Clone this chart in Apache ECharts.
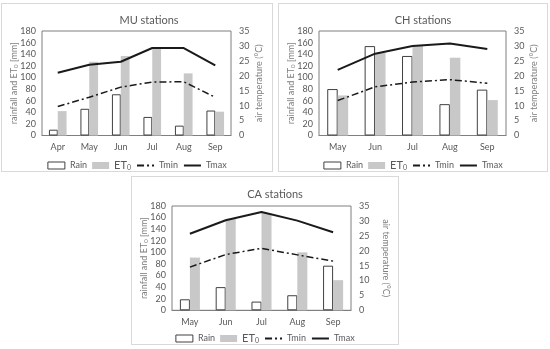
<!DOCTYPE html>
<html><head><meta charset="utf-8">
<script src="https://cdn.jsdelivr.net/npm/echarts@6/dist/echarts.min.js"></script>
<style>
html,body{margin:0;padding:0;background:#fff;width:550px;height:349px;overflow:hidden}
.p{position:absolute;border:1px solid #d9d9d9;box-sizing:border-box;background:#fff}
</style></head><body>
<div id="mu" class="p" style="left:1px;top:3px;width:272px;height:169px"></div>
<div id="ch" class="p" style="left:278px;top:3px;width:270px;height:169px"></div>
<div id="ca" class="p" style="left:131px;top:176px;width:268px;height:169px"></div>
<script>
// ---- data ----
const muMonths = ['Apr','May','Jun','Jul','Aug','Sep'];
const muRain = [10, 46, 71, 32, 17, 43];
const muET0  = [42, 127, 137, 149, 107, 41];
const muTmin = [9.7, 12.8, 16.2, 17.9, 18.0, 12.8];
const muTmax = [21.0, 23.7, 24.7, 29.3, 29.3, 23.5];

const chMonths = ['May','Jun','Jul','Aug','Sep'];
const chRain = [80, 154, 137, 54, 79];
const chET0  = [69, 142, 154, 134, 61];
const chTmin = [11.7, 16.3, 17.9, 18.7, 17.5];
const chTmax = [22.0, 27.4, 30.0, 30.8, 29.0];

const caMonths = ['May','Jun','Jul','Aug','Sep'];
const caRain = [19, 40, 15, 26, 77];
const caET0  = [91, 158, 168, 100, 52];
const caTmin = [14.5, 18.7, 20.8, 18.6, 16.5];
const caTmax = [25.7, 30.2, 33.0, 30.1, 26.2];

const leftTicks = {min:0, max:180, interval:20};
const rightTicks = {min:0, max:35, interval:5};

const FONT = 'Lato, "Open Sans", sans-serif';
const TXT = '#595959';

function build(id, title, months, rain, et0, tmin, tmax, L) {
  const chart = echarts.init(document.getElementById(id), null, {renderer:'canvas'});
  chart.setOption({
    animation:false,
    textStyle:{fontFamily:FONT},
    title:{text:title, left:L.titleX, top:L.titleY, textAlign:'center',
      textStyle:{fontSize:11, fontWeight:'normal', color:TXT, fontFamily:FONT}},
    grid:{left:L.left, top:L.top, width:L.width, height:L.height, show:true,
      borderColor:'#7f7f7f', borderWidth:1, containLabel:false},
    legend:{top:L.legendTop, left:'center', itemWidth:17, itemHeight:7, itemGap:5,
      textStyle:{color:TXT, fontFamily:FONT,
        rich:{n:{fontSize:9, color:TXT, fontFamily:FONT, height:14},
              e:{fontSize:11, color:TXT, fontFamily:FONT, height:14},
              s:{fontSize:7, color:TXT, fontFamily:FONT, verticalAlign:'bottom', height:10}}},
      formatter:function(n){ return n==='ET0' ? '{e|ET}{s|0}' : '{n|'+n+'}'; },
      data:[{name:'Rain', icon:'rect', itemStyle:{borderWidth:1, borderColor:'#404040'}},
            {name:'ET0', icon:'rect'},
            {name:'Tmin', itemStyle:{opacity:0}},
            {name:'Tmax', itemStyle:{opacity:0}}]},
    xAxis:{type:'category', data:months,
      axisLine:{lineStyle:{color:'#7f7f7f'}}, axisTick:{show:false},
      axisLabel:{color:TXT, fontSize:9, margin:7, fontFamily:FONT}},
    yAxis:[
      {type:'value', min:leftTicks.min, max:leftTicks.max, interval:leftTicks.interval,
       splitLine:{show:false}, axisLine:{show:false}, axisTick:{show:false},
       axisLabel:{color:TXT, fontSize:9, margin:6, fontFamily:FONT},
       name:'{a|rainfall and ET}{s|0}{a| [mm]}', nameLocation:'middle', nameGap:23, nameMoveOverlap:false,
       nameTextStyle:{rich:{a:{fontSize:9, color:'#7f7f7f', fontFamily:FONT}, s:{fontSize:6, color:'#7f7f7f', fontFamily:FONT, verticalAlign:'bottom'}}}},
      {type:'value', position:'right', min:rightTicks.min, max:rightTicks.max, interval:rightTicks.interval,
       splitLine:{show:false}, axisLine:{show:false}, axisTick:{show:false},
       axisLabel:{color:TXT, fontSize:9, margin:8, fontFamily:FONT},
       name:'air temperature (°C)', nameLocation:'middle', nameGap:L.rightGap, nameRotate:L.rightRot, nameMoveOverlap:false,
       nameTextStyle:{fontSize:9, color:'#7f7f7f', fontFamily:FONT}}
    ],
    series:[
      {name:'Rain', type:'bar', data:rain, barWidth:'28%', barGap:'0%',
       itemStyle:{color:'#ffffff', borderColor:'#404040', borderWidth:1}},
      {name:'ET0', type:'bar', data:et0, barWidth:'28%', barGap:'0%',
       itemStyle:{color:'#c8c8c8'}},
      {name:'Tmin', type:'line', yAxisIndex:1, data:tmin, symbol:'none',
       itemStyle:{color:'#1a1a1a'},
       lineStyle:{color:'#1a1a1a', width:1.5, type:[7,3,2,3]}},
      {name:'Tmax', type:'line', yAxisIndex:1, data:tmax, symbol:'none',
       itemStyle:{color:'#1a1a1a'},
       lineStyle:{color:'#1a1a1a', width:2}}
    ]
  });
}

build('mu','MU stations', muMonths, muRain, muET0, muTmin, muTmax,
  {left:39.5, top:27, width:195, height:104.5, titleX:142, titleY:6, legendTop:151, rightGap:24, rightRot:90});
build('ch','CH stations', chMonths, chRain, chET0, chTmin, chTmax,
  {left:39.5, top:27, width:194, height:104.5, titleX:139, titleY:6, legendTop:151, rightGap:24, rightRot:90});
build('ca','CA stations', caMonths, caRain, caET0, caTmin, caTmax,
  {left:38, top:29, width:193, height:104.3, titleX:138, titleY:7, legendTop:151, rightGap:30, rightRot:-90});
</script>
</body></html>
